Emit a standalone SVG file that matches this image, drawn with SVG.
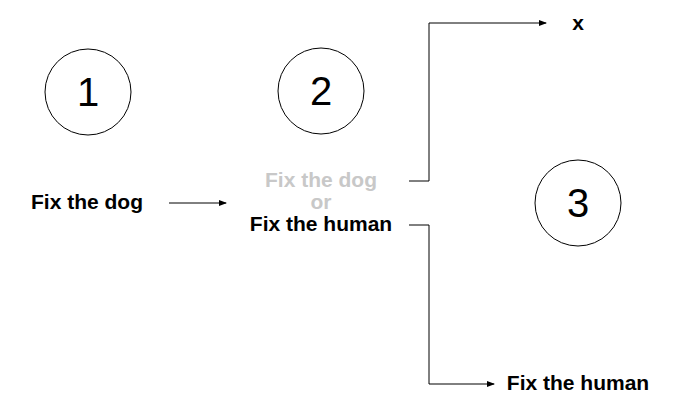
<svg xmlns="http://www.w3.org/2000/svg" width="692" height="418" viewBox="0 0 692 418">
<defs><marker id="a" markerWidth="8" markerHeight="6" refX="7" refY="3" orient="auto" markerUnits="userSpaceOnUse"><path d="M0,0 L8,3 L0,6z" fill="#000"/></marker></defs>
<style>.c{fill:#fff;stroke:#000;stroke-width:1}.n{font-family:"Liberation Sans",Arial,sans-serif;font-size:40px;text-anchor:middle}.b{font-family:"Liberation Sans",Arial,sans-serif;font-size:21px;font-weight:bold;text-anchor:middle}.l{fill:none;stroke:#000;stroke-width:1;marker-end:url(#a)}</style>
<rect width="692" height="418" fill="#fff"/>
<g id="n1"><circle class="c" cx="88" cy="92" r="43"/><text class="n" x="88" y="106">1</text></g>
<g id="n2"><circle class="c" cx="321" cy="91" r="43"/><text class="n" x="321" y="105">2</text></g>
<g id="n3"><circle class="c" cx="578" cy="203" r="43"/><text class="n" x="578" y="217">3</text></g>
<g id="t1"><text class="b" x="87" y="209">Fix the dog</text></g>
<g id="t2"><text class="b" x="321" y="187" fill="#c8c8c8">Fix the dog</text><text class="b" x="321" y="209" fill="#c8c8c8">or</text><text class="b" x="321" y="231">Fix the human</text></g>
<g id="tx"><text class="b" x="578" y="30">x</text></g>
<g id="th"><text class="b" x="578" y="390">Fix the human</text></g>
<g id="connectors">
<path class="l" d="M169,203 H226"/>
<path class="l" d="M409,181 H429 V23 H546"/>
<path class="l" d="M409,225 H429 V384 H494"/>
</g>
</svg>
